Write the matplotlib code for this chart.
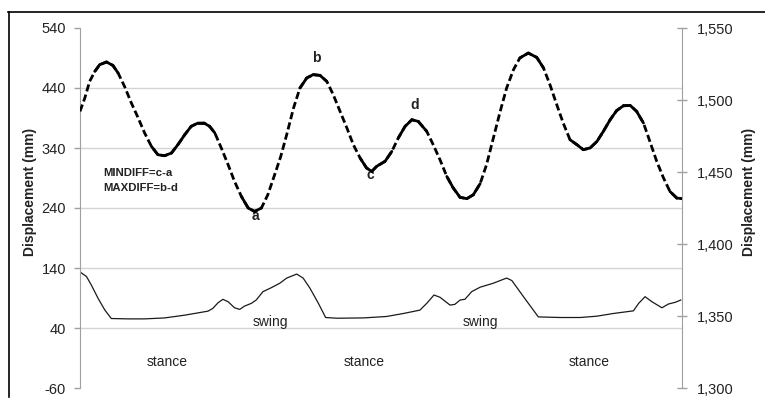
import numpy as np
import matplotlib
matplotlib.use('agg')
import matplotlib.pyplot as plt
from matplotlib.collections import LineCollection
from matplotlib.lines import Line2D
from matplotlib.ticker import FuncFormatter

plt.rcParams['font.family'] = ['Liberation Sans', 'DejaVu Sans']
plt.rcParams['axes.unicode_minus'] = False

# upper trace, read against the right axis (mm)
upper_frame = [0, 1.2, 2.4, 3.7, 4.9, 6.6, 8.2, 9.5, 11.1, 12.8,
               14.5, 16.1, 17.8, 19.4, 21.1, 22.8, 24.4, 26.1, 27.7, 29.4,
               30.9, 32.3, 33.6, 35.2, 36.9, 38.5, 40.2, 41.9, 43.5, 45.2,
               46.8, 48.5, 50.0, 51.5, 53.2, 54.8, 56.5, 58.1, 59.8, 61.5,
               63.1, 64.8, 66.5, 68.1, 69.8, 71.4, 72.7, 73.9, 76.0, 77.7,
               79.3, 81.0, 82.7, 84.3, 86.4, 88.0, 89.7, 91.4, 93.0, 94.7,
               96.4, 98.0, 99.7, 101.3, 103.0, 104.7, 106.3, 108.0, 109.6, 111.7,
               113.8, 115.5, 117.1, 118.8, 120.4, 122.1, 123.8, 125.4, 127.1, 128.8,
               130.4, 132.1, 133.7, 135.4, 137.1, 138.7, 140.4, 142.0, 143.7, 145.4,
               147.0, 148.7, 150.0]
upper_mm = [1492.1, 1501.4, 1512.9, 1519.9, 1524.5, 1526.4, 1524.0, 1518.7, 1509.4, 1497.9,
            1487.5, 1477.1, 1467.8, 1462.0, 1461.3, 1463.2, 1469.0, 1475.9, 1481.7, 1484.0,
            1484.0, 1481.7, 1477.1, 1466.7, 1455.1, 1443.5, 1433.1, 1425.0, 1422.6, 1425.0,
            1434.2, 1448.1, 1460.6, 1475.9, 1494.4, 1508.3, 1515.3, 1517.6, 1517.1, 1512.9,
            1503.7, 1492.1, 1480.6, 1469.0, 1459.7, 1452.8, 1450.4, 1453.9, 1457.4, 1464.3,
            1473.6, 1481.7, 1486.3, 1485.1, 1478.2, 1469.0, 1458.5, 1446.9, 1438.9, 1432.4,
            1431.5, 1434.2, 1441.9, 1455.1, 1473.6, 1492.1, 1508.3, 1521.0, 1529.2, 1532.6,
            1529.6, 1522.2, 1510.6, 1496.7, 1484.0, 1472.4, 1469.0, 1465.5, 1466.7, 1471.2,
            1478.2, 1486.3, 1492.6, 1496.0, 1496.2, 1492.1, 1484.0, 1471.2, 1457.4, 1445.8,
            1436.5, 1431.9, 1431.5]

# lower trace, read against the left axis (mm)
lower_frame = [0, 1.6, 2.8, 4.5, 6.2, 7.8, 12.0, 16.1, 21.1, 26.1,
               31.9, 33.1, 34.4, 35.6, 36.9, 38.5, 39.8, 41.0, 42.7, 43.9,
               45.6, 47.7, 49.8, 51.5, 54.0, 55.6, 57.3, 59.4, 61.2, 64.0,
               70.6, 76.4, 80.6, 84.7, 86.4, 88.2, 89.7, 92.2, 93.4, 94.7,
               95.9, 97.6, 99.7, 103.0, 106.3, 107.6, 110.5, 114.2, 119.6, 124.6,
               128.8, 132.9, 137.9, 139.2, 140.8, 142.5, 145.0, 146.6, 148.3, 149.7]
lower_mm = [133.3, 125.9, 111.9, 89.5, 69.8, 55.8, 55.2, 55.2, 56.8, 61.4,
            68.1, 72.7, 82.1, 87.8, 83.8, 73.7, 71.0, 76.5, 81.1, 86.6,
            100.6, 107.3, 114.7, 123.2, 129.9, 123.2, 106.3, 81.1, 57.5, 56.3,
            56.8, 59.2, 64.2, 69.8, 81.1, 95.0, 91.2, 78.2, 79.4, 86.6,
            87.8, 100.6, 108.0, 114.7, 123.2, 119.1, 92.2, 58.5, 57.5, 57.5,
            59.7, 64.2, 68.6, 81.1, 92.2, 83.8, 73.7, 79.9, 82.8, 86.6]

left_ticks = [-60, 40, 140, 240, 340, 440, 540]
right_ticks = [1300, 1350, 1400, 1450, 1500, 1550]

axis_grey = '#a0a0a0'
grid_grey = '#d4d4d4'
text_col = '#222222'

fig = plt.figure(figsize=(7.65, 4.07), dpi=100)
ax = fig.add_axes([80 / 765, 1 - 388 / 407, 602 / 765, 360 / 407])
ax2 = ax.twinx()

ax.set_xlim(0, 150)
ax.set_ylim(-60, 540)
ax2.set_ylim(1300, 1550)

# horizontal grid only between the end ticks
for v in left_ticks[1:-1]:
    ax.axhline(v, color=grid_grey, lw=1.0, zorder=0)

# lower trace
ax.plot(lower_frame, lower_mm, color='#1a1a1a', lw=0.9)

# upper trace: dashed where steep, solid where flat
ax2.plot(upper_frame, upper_mm, color='black', lw=2.0,
         ls=(0, (2.6, 1.2)), dash_capstyle='butt')
pts = ax2.transData.transform(np.column_stack([upper_frame, upper_mm]))
d = np.diff(pts, axis=0)
slope = np.abs(d[:, 1] / d[:, 0])
segs = [[(upper_frame[i], upper_mm[i]), (upper_frame[i + 1], upper_mm[i + 1])]
        for i in range(len(slope)) if slope[i] < 1.8]
ax2.add_collection(LineCollection(segs, colors='black', linewidths=2.0,
                                  capstyle='round', transform=ax2.transData))

# axes styling
for a in (ax, ax2):
    a.spines['top'].set_visible(False)
    a.spines['bottom'].set_visible(False)
    a.set_xticks([])
ax.spines['right'].set_visible(False)
ax2.spines['left'].set_visible(False)
ax.spines['left'].set_color(axis_grey)
ax2.spines['right'].set_color(axis_grey)

ax.set_yticks(left_ticks)
ax2.set_yticks(right_ticks)
ax2.yaxis.set_major_formatter(FuncFormatter(lambda v, p: f"{v:,.0f}"))
ax.tick_params(axis='y', colors=axis_grey, labelcolor=text_col, labelsize=10.5,
               length=4, width=1, pad=6)
ax2.tick_params(axis='y', colors=axis_grey, labelcolor=text_col, labelsize=10.5,
                length=7, width=1, pad=7, direction='inout')

ax.set_ylabel("Displacement (mm)", fontsize=10, fontweight='bold', color=text_col)
ax.yaxis.set_label_coords(-0.072, 0.545)
ax2.set_ylabel("Displacement (mm)", fontsize=10, fontweight='bold', color=text_col,
               rotation=90)
ax2.yaxis.set_label_coords(1.1, 0.545)

# annotations
ax.text(5.7, 299, "MINDIFF=c-a", fontsize=8.2, fontweight='bold', color=text_col,
        ha='left', va='center')
ax.text(5.7, 274, "MAXDIFF=b-d", fontsize=8.2, fontweight='bold', color=text_col,
        ha='left', va='center')
for lab, fx, fy in [('a', 43.6, 226), ('b', 59.0, 490), ('c', 72.3, 295), ('d', 83.5, 412)]:
    ax.text(fx, fy, lab, fontsize=10, fontweight='bold', color=text_col,
            ha='center', va='center')
for fx in (42.9, 95.4):
    ax.text(fx, 50, "swing", fontsize=10, color=text_col, ha='left', va='center')
for fx in (21.8, 70.8, 126.8):
    ax.text(fx, -16, "stance", fontsize=10, color=text_col, ha='center', va='center')

# outer frame
fig.add_artist(Line2D([8 / 765, 1.0], [1 - 11.5 / 407, 1 - 11.5 / 407],
                      color='black', lw=1.2, transform=fig.transFigure))
fig.add_artist(Line2D([8.5 / 765, 8.5 / 765], [1 - 11.5 / 407, 1 - 397 / 407],
                      color='black', lw=1.2, transform=fig.transFigure))

fig.savefig('out.png', dpi=100)
